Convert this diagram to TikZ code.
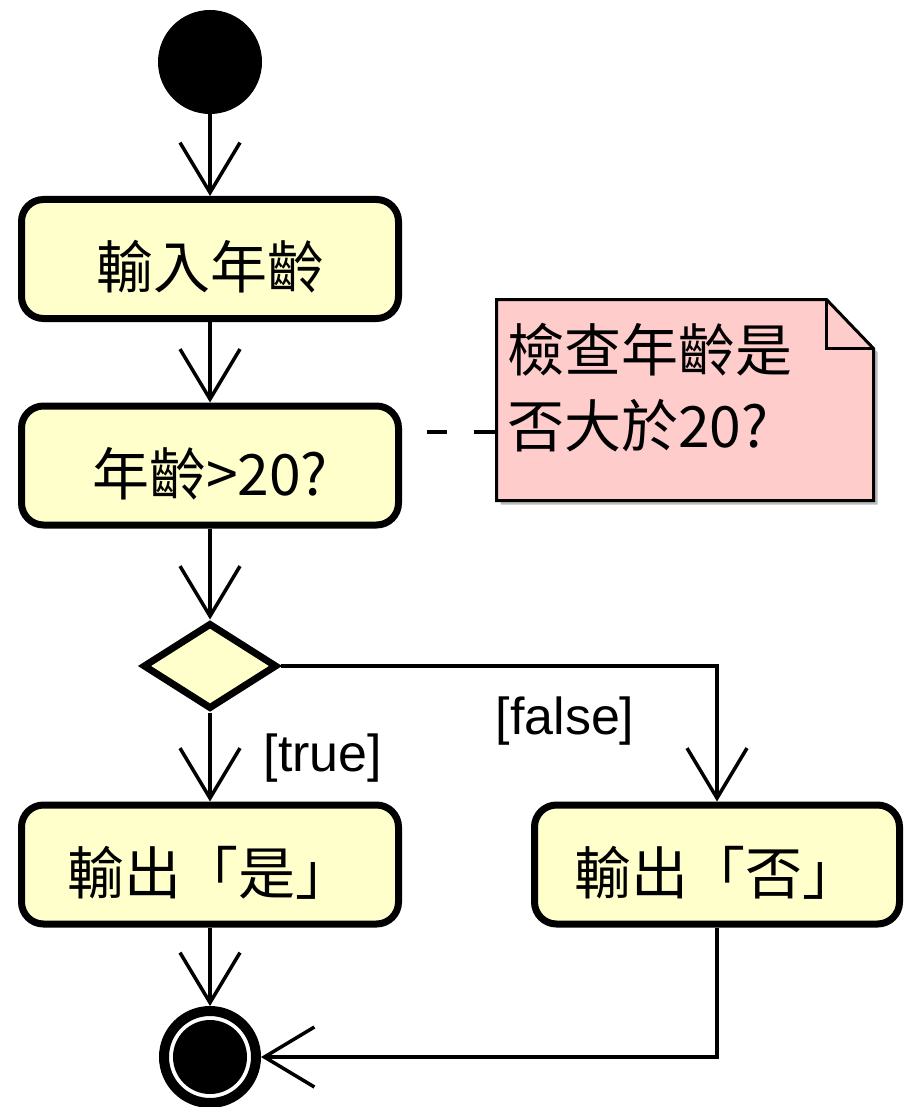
\documentclass[tikz,border=0pt]{standalone}
\usepackage{fontspec}
\setmainfont{Liberation Sans}
\newfontfamily\cjk{Noto Sans CJK TC}
\usetikzlibrary{arrows.meta,shapes.geometric}
\definecolor{actfill}{HTML}{FFFFCC}
\definecolor{notefill}{HTML}{FFCCCC}
\definecolor{shadowgray}{HTML}{BBBBBB}
\newcommand{\boxtxt}[1]{\raisebox{-8pt}[50pt][7pt]{#1}}
\begin{document}
\begin{tikzpicture}[x=1pt,y=-1pt,
  action/.style={draw=black, line width=7pt, fill=actfill, rounded corners=22pt,
    minimum width=377pt, minimum height=119pt, inner sep=0pt,
    font=\cjk\fontsize{57}{68}\selectfont},
  decision/.style={shape=diamond, draw=black, line width=7pt, fill=actfill,
    minimum width=134pt, minimum height=86pt, inner sep=0pt},
  startnode/.style={circle, fill=black, minimum size=104pt, inner sep=0pt},
  finalnode/.style={circle, draw=black, line width=10pt, fill=white, minimum size=92pt,
    inner sep=0pt, path picture={\fill[black] (path picture bounding box.center) circle (37pt);}},
  flow/.style={line width=3.5pt, -{Straight Barb[length=50pt,width=60pt]}},
  notebox/.style={minimum width=377pt, minimum height=201pt, inner sep=0pt, outer sep=0pt},
  notetext/.style={inner sep=0pt, align=left, font=\cjk\fontsize{57}{76}\selectfont},
  dashline/.style={line width=4pt, dash pattern=on 21pt off 27pt},
  guard/.style={inner sep=0pt, font=\fontsize{52}{60}\selectfont}
]
\useasboundingbox (0,0) rectangle (905,1107);
\fill[white] (0,0) rectangle (905,1107);

% nodes
\node[startnode] (start) at (210,62) {};
\node[action] (b1) at (210,259) {\boxtxt{輸入年齡}};
\node[action] (b2) at (210,465.5) {\boxtxt{年齡>20?}};
\node[decision] (dec) at (210,666) {};
\node[action] (b3) at (210,864.5) {\boxtxt{輸出「是」}};
\node[action, minimum width=365pt] (b4) at (717,864.5) {\boxtxt{輸出「否」}};
\node[finalnode] (final) at (210,1057) {};

% note
\node[notebox] (note) at (685,400) {};
\fill[shadowgray] ([shift={(4,4)}]note.north west) -- ([shift={(-43,4)}]note.north east)
  -- ([shift={(4,53)}]note.north east) -- ([shift={(4,4)}]note.south east)
  -- ([shift={(4,4)}]note.south west) -- cycle;
\draw[line width=3pt, fill=notefill] (note.north west) -- ([xshift=-47pt]note.north east)
  -- ([yshift=-49pt]note.north east) -- (note.south east) -- (note.south west) -- cycle;
\draw[line width=3pt] ([xshift=-47pt]note.north east) -- ([xshift=-47pt,yshift=-49pt]note.north east)
  -- ([yshift=-49pt]note.north east);
\node[notetext, anchor=north west] (notetxt) at (507,323) {檢查年齡是\\否大於20?};

% note link
\coordinate (nA) at (495,432);
\coordinate (nB) at (427,432);
\draw[dashline] (nA) -- (nB);

% connectors
\draw[flow] (start) -- (b1);
\draw[flow] (b1) -- (b2);
\draw[flow] (b2) -- (dec);
\draw[flow] (dec) -- (b3);
\draw[flow] (dec.east) -| (b4.north);
\draw[flow] (b3) -- (final);
\draw[flow] (b4.south) |- (final.east);

% guards
\node[guard] (tl) at (323,758) {[true]};
\node[guard] (fl) at (565,721) {[false]};
\end{tikzpicture}
\end{document}
